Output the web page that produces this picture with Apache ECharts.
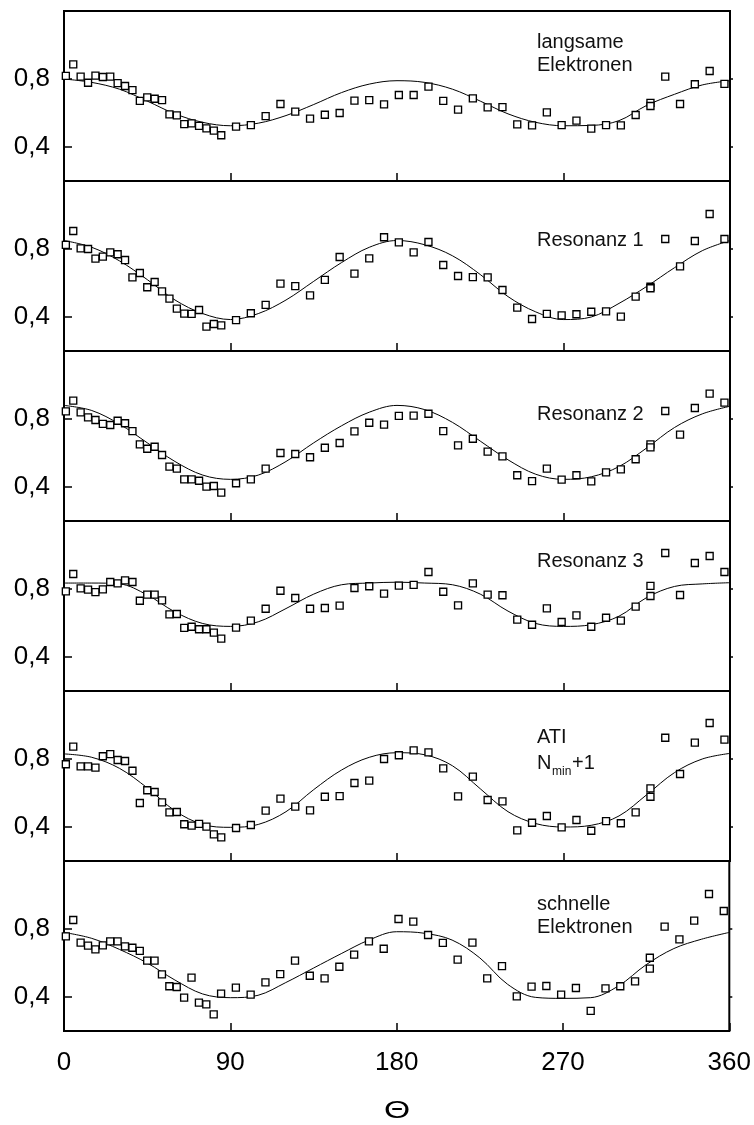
<!DOCTYPE html>
<html>
<head>
<meta charset="utf-8">
<script src="https://cdn.jsdelivr.net/npm/echarts@6/dist/echarts.min.js"></script>
<style>
  html, body { margin: 0; padding: 0; background: #fff; }
  #chart { width: 754px; height: 1125px; }
</style>
</head>
<body>
<div id="chart"></div>
<script>
// Measured emission angles (degrees); 317° was measured twice
const angles = [1, 5, 9, 13, 17, 21, 25, 29, 33, 37, 41, 45, 49, 53, 57, 61, 65, 69, 73, 77, 81, 85,
  93, 101, 109, 117, 125, 133, 141, 149, 157, 165, 173, 181, 189, 197, 205, 213, 221, 229,
  237, 245, 253, 261, 269, 277, 285, 293, 301, 309, 317, 317, 325, 333, 341, 349, 357];

// Measured yields per electron group
const langsame = [0.818, 0.886, 0.814, 0.778, 0.820, 0.812, 0.814, 0.776, 0.759, 0.735, 0.671, 0.692, 0.684, 0.676, 0.592, 0.586, 0.535, 0.539, 0.524, 0.510, 0.496, 0.469,
  0.520, 0.529, 0.582, 0.653, 0.608, 0.567, 0.590, 0.600, 0.673, 0.676, 0.651, 0.706, 0.706, 0.755, 0.671, 0.620, 0.686, 0.633,
  0.635, 0.533, 0.527, 0.604, 0.529, 0.555, 0.508, 0.529, 0.527, 0.588, 0.660, 0.641, 0.814, 0.653, 0.769, 0.847, 0.771];
const resonanz1 = [0.824, 0.906, 0.804, 0.800, 0.743, 0.755, 0.780, 0.769, 0.735, 0.633, 0.659, 0.575, 0.606, 0.551, 0.508, 0.449, 0.420, 0.418, 0.441, 0.343, 0.359, 0.351,
  0.382, 0.422, 0.471, 0.596, 0.582, 0.527, 0.618, 0.753, 0.655, 0.745, 0.869, 0.839, 0.780, 0.841, 0.706, 0.641, 0.635, 0.633,
  0.559, 0.455, 0.388, 0.418, 0.410, 0.416, 0.431, 0.433, 0.402, 0.520, 0.578, 0.569, 0.859, 0.698, 0.847, 1.006, 0.859];
const resonanz2 = [0.845, 0.908, 0.839, 0.810, 0.794, 0.771, 0.765, 0.790, 0.775, 0.729, 0.651, 0.625, 0.637, 0.588, 0.520, 0.508, 0.445, 0.445, 0.437, 0.402, 0.406, 0.367,
  0.422, 0.445, 0.508, 0.600, 0.594, 0.575, 0.631, 0.659, 0.727, 0.778, 0.767, 0.818, 0.820, 0.831, 0.729, 0.645, 0.684, 0.608,
  0.580, 0.469, 0.435, 0.508, 0.443, 0.469, 0.433, 0.486, 0.504, 0.563, 0.651, 0.633, 0.847, 0.708, 0.865, 0.949, 0.896];
const resonanz3 = [0.786, 0.888, 0.804, 0.796, 0.782, 0.798, 0.841, 0.833, 0.851, 0.841, 0.731, 0.767, 0.767, 0.733, 0.651, 0.653, 0.571, 0.578, 0.563, 0.563, 0.543, 0.508,
  0.573, 0.614, 0.684, 0.790, 0.747, 0.684, 0.688, 0.702, 0.806, 0.816, 0.773, 0.820, 0.824, 0.900, 0.784, 0.704, 0.833, 0.767,
  0.763, 0.620, 0.590, 0.686, 0.606, 0.645, 0.578, 0.631, 0.614, 0.696, 0.818, 0.759, 1.012, 0.765, 0.953, 0.994, 0.900];
const ati = [0.769, 0.873, 0.757, 0.757, 0.749, 0.816, 0.829, 0.794, 0.788, 0.731, 0.541, 0.616, 0.606, 0.545, 0.486, 0.488, 0.416, 0.408, 0.418, 0.402, 0.357, 0.339,
  0.394, 0.412, 0.496, 0.567, 0.520, 0.498, 0.578, 0.582, 0.659, 0.673, 0.800, 0.822, 0.851, 0.839, 0.745, 0.580, 0.696, 0.559,
  0.551, 0.380, 0.425, 0.465, 0.398, 0.441, 0.378, 0.435, 0.422, 0.486, 0.627, 0.578, 0.925, 0.712, 0.896, 1.012, 0.914];
const schnelle = [0.757, 0.853, 0.720, 0.702, 0.680, 0.704, 0.727, 0.727, 0.698, 0.690, 0.671, 0.614, 0.614, 0.533, 0.463, 0.459, 0.396, 0.514, 0.367, 0.357, 0.298, 0.420,
  0.455, 0.414, 0.486, 0.535, 0.614, 0.525, 0.510, 0.578, 0.649, 0.727, 0.684, 0.859, 0.843, 0.765, 0.718, 0.620, 0.720, 0.510,
  0.582, 0.404, 0.461, 0.465, 0.414, 0.453, 0.318, 0.451, 0.463, 0.492, 0.631, 0.567, 0.814, 0.739, 0.849, 1.006, 0.906];

// Fitted angular distributions, sampled every 15°
const fitAngles = [0, 15, 30, 45, 60, 75, 90, 105, 120, 135, 150, 165, 180, 195, 210, 225, 240, 255, 270, 285, 300, 315, 330, 345, 360];
const fitLangsame = [0.80, 0.78, 0.74, 0.67, 0.595, 0.545, 0.525, 0.54, 0.585, 0.65, 0.72, 0.77, 0.79, 0.78, 0.74, 0.67, 0.595, 0.545, 0.525, 0.527, 0.555, 0.645, 0.71, 0.765, 0.79];
const fitResonanz1 = [0.85, 0.81, 0.73, 0.62, 0.50, 0.42, 0.385, 0.42, 0.50, 0.61, 0.72, 0.81, 0.85, 0.825, 0.76, 0.65, 0.52, 0.43, 0.385, 0.40, 0.48, 0.58, 0.69, 0.79, 0.85];
const fitResonanz2 = [0.88, 0.85, 0.77, 0.66, 0.55, 0.47, 0.445, 0.47, 0.55, 0.66, 0.76, 0.84, 0.88, 0.855, 0.78, 0.67, 0.56, 0.475, 0.445, 0.46, 0.52, 0.63, 0.75, 0.83, 0.875];
const fitResonanz3 = [0.835, 0.835, 0.83, 0.765, 0.665, 0.597, 0.58, 0.607, 0.685, 0.77, 0.825, 0.835, 0.84, 0.835, 0.825, 0.77, 0.67, 0.597, 0.58, 0.59, 0.64, 0.75, 0.815, 0.83, 0.837];
const fitAti = [0.83, 0.81, 0.745, 0.63, 0.495, 0.415, 0.398, 0.415, 0.49, 0.62, 0.735, 0.81, 0.837, 0.825, 0.76, 0.625, 0.49, 0.42, 0.40, 0.41, 0.465, 0.59, 0.72, 0.80, 0.833];
const fitSchnelle = [0.78, 0.745, 0.68, 0.60, 0.50, 0.418, 0.396, 0.41, 0.485, 0.57, 0.655, 0.735, 0.784, 0.775, 0.735, 0.63, 0.475, 0.398, 0.392, 0.396, 0.465, 0.59, 0.685, 0.74, 0.78];

const xTicks = [0, 90, 180, 270, 360];
const yTicks = [0.4, 0.8];

const measured = [langsame, resonanz1, resonanz2, resonanz3, ati, schnelle];
const fits = [fitLangsame, fitResonanz1, fitResonanz2, fitResonanz3, fitAti, fitSchnelle];

const FONT = '"Liberation Sans", Arial, Helvetica, sans-serif';
const LEFT = 64, WIDTH = 666, TOP = 11, PANEL_H = 170;
const nPanels = measured.length;

const grids = [], xAxes = [], yAxes = [], series = [];
for (let i = 0; i < nPanels; i++) {
  const last = i === nPanels - 1;
  grids.push({
    left: LEFT, width: WIDTH, top: TOP + i * PANEL_H, height: PANEL_H,
    show: true, borderColor: '#000', borderWidth: 2, backgroundColor: 'transparent'
  });
  xAxes.push({
    type: 'value', gridIndex: i, min: xTicks[0], max: xTicks[xTicks.length - 1], interval: 90,
    axisLine: { show: false },
    axisTick: { show: true, inside: true, length: 8, lineStyle: { color: '#000', width: 1.5 } },
    axisLabel: { show: last, fontFamily: FONT, fontSize: 26, color: '#000', margin: 19 },
    splitLine: { show: false }
  });
  yAxes.push({
    type: 'value', gridIndex: i, position: 'left', min: 0.2, max: 1.2,
    axisLine: { show: false },
    axisTick: { show: true, inside: true, length: 8, customValues: yTicks, lineStyle: { color: '#000', width: 1.5 } },
    axisLabel: {
      show: true, customValues: yTicks, fontFamily: FONT, fontSize: 26, color: '#000', margin: 14,
      padding: [11, 0, 0, 0],
      formatter: v => String(v).replace('.', ',')
    },
    splitLine: { show: false }
  });
  yAxes.push({
    type: 'value', gridIndex: i, position: 'right', min: 0.2, max: 1.2,
    axisLine: { show: false },
    axisTick: { show: true, inside: false, length: 3, customValues: yTicks, lineStyle: { color: '#000', width: 1.5 } },
    axisLabel: { show: false },
    splitLine: { show: false }
  });
  series.push({
    type: 'line', xAxisIndex: i, yAxisIndex: 2 * i, z: 2,
    data: fitAngles.map((a, k) => [a, fits[i][k]]),
    smooth: 0.35, showSymbol: false, silent: true,
    lineStyle: { color: '#000', width: 1 }
  });
  series.push({
    type: 'scatter', xAxisIndex: i, yAxisIndex: 2 * i, z: 3,
    data: angles.map((a, k) => [a, measured[i][k]]),
    symbol: 'rect', symbolSize: 7, silent: true,
    itemStyle: { color: '#fff', borderColor: '#000', borderWidth: 1.35, opacity: 1 }
  });
}

// Panel captions
const TX = 537;
const captionStyle = { fontFamily: FONT, fontSize: 20, fill: '#111', verticalAlign: 'middle', align: 'left' };
function caption(text, x, y, extra, props) {
  return Object.assign({ type: 'text', x: x, y: y, z: 10, style: Object.assign({ text: text }, captionStyle, extra || {}) }, props || {});
}
const graphics = [
  caption('langsame', TX, 42),
  caption('Elektronen', TX, 65),
  caption('Resonanz 1', TX, 240),
  caption('Resonanz 2', TX, 414),
  caption('Resonanz 3', TX, 561),
  caption('ATI', TX, 737),
  caption('N', TX, 763),
  caption('min', TX + 15, 772, { fontSize: 12 }),
  caption('+1', TX + 35, 763),
  caption('schnelle', TX, 904),
  caption('Elektronen', TX, 927),
  caption('Θ', 397, 1111, { fontSize: 24, align: 'center', fill: '#000' }, { scaleX: 1.4 })
];

const chart = echarts.init(document.getElementById('chart'), null, { renderer: 'canvas' });
chart.setOption({
  animation: false,
  backgroundColor: '#fff',
  grid: grids,
  xAxis: xAxes,
  yAxis: yAxes,
  series: series,
  graphic: graphics
});
</script>
</body>
</html>
